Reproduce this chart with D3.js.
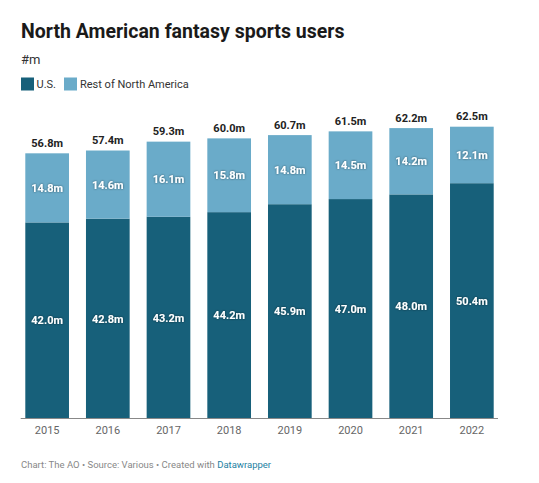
<!DOCTYPE html>
<html><head><meta charset="utf-8">
<script src="https://cdn.jsdelivr.net/npm/d3@7"></script>
<style>
body{margin:0;background:#fff;font-family:Roboto,"Noto Sans",sans-serif;}
</style></head>
<body><svg id="c" width="539" height="483"></svg>
<script>
const years = ["2015","2016","2017","2018","2019","2020","2021","2022"];
const us = [42.0,42.8,43.2,44.2,45.9,47.0,48.0,50.4];
const rest = [14.8,14.6,16.1,15.8,14.8,14.5,14.2,12.1];
const totals = [56.8,57.4,59.3,60.0,60.7,61.5,62.2,62.5];
const seriesNames = ["U.S.","Rest of North America"];
const colors = ["#17607a","#6aabc9"];

const svg = d3.select("#c");
svg.append("text").attr("x",21).attr("y",38).attr("font-size",19.5).attr("font-weight",700).attr("fill","#1a1a1a").text("North American fantasy sports users");
svg.append("text").attr("x",21).attr("y",64).attr("font-size",13).attr("fill","#333").text("#m");
const lg = svg.append("g");
lg.append("rect").attr("x",21).attr("y",77.5).attr("width",13).attr("height",13).attr("fill",colors[0]);
lg.append("text").attr("x",36.5).attr("y",88).attr("font-size",11).attr("fill","#333").text(seriesNames[0]);
lg.append("rect").attr("x",64).attr("y",77.5).attr("width",13).attr("height",13).attr("fill",colors[1]);
lg.append("text").attr("x",80).attr("y",88).attr("font-size",11).attr("fill","#333").text(seriesNames[1]);

const xb = d3.scaleBand().domain(years).range([25.3,493.7]).paddingInner(0.28);
const y = d3.scaleLinear().domain([0,62.5]).range([418.5,126.7]);

const defs = svg.append("defs");
const f = defs.append("filter").attr("id","sh").attr("x","-20%").attr("y","-30%").attr("width","140%").attr("height","160%");
f.append("feDropShadow").attr("dx",0).attr("dy",0).attr("stdDeviation",0.8).attr("flood-color","#000").attr("flood-opacity",0.55);

const g = svg.append("g");
years.forEach((yr,i)=>{
  const bx = xb(yr), bw = xb.bandwidth();
  g.append("rect").attr("x",bx).attr("y",y(us[i])).attr("width",bw).attr("height",y(0)-y(us[i])).attr("fill",colors[0]);
  g.append("rect").attr("x",bx).attr("y",y(us[i]+rest[i])).attr("width",bw).attr("height",y(us[i])-y(us[i]+rest[i])).attr("fill",colors[1]);
  g.append("text").attr("x",bx+bw/2).attr("y",y(us[i]/2)+4).attr("text-anchor","middle").attr("font-size",11).attr("font-weight",700).attr("fill","#fff").attr("filter","url(#sh)").text(us[i].toFixed(1)+"m");
  g.append("text").attr("x",bx+bw/2).attr("y",y(us[i]+rest[i]/2)+4).attr("text-anchor","middle").attr("font-size",11).attr("font-weight",700).attr("fill","#fff").attr("filter","url(#sh)").text(rest[i].toFixed(1)+"m");
  g.append("text").attr("x",bx+bw/2).attr("y",y(totals[i])-6.5).attr("text-anchor","middle").attr("font-size",11).attr("font-weight",700).attr("fill","#222").text(totals[i].toFixed(1)+"m");
});
svg.append("line").attr("x1",20.7).attr("x2",498).attr("y1",418.5).attr("y2",418.5).attr("stroke","#888").attr("stroke-width",1);
const ax = svg.append("g").attr("transform","translate(0,418.5)").call(d3.axisBottom(xb).tickSize(0).tickPadding(8));
ax.select(".domain").remove();
ax.selectAll("text").attr("font-size",11).attr("fill","#666").attr("font-family","Roboto,sans-serif");

const ft = svg.append("text").attr("x",21).attr("y",468).attr("font-size",9.5).attr("fill","#888");
ft.append("tspan").text("Chart: The AO • Source: Various • Created with ");
ft.append("tspan").attr("fill","#1d81a2").text("Datawrapper");
</script></body></html>
